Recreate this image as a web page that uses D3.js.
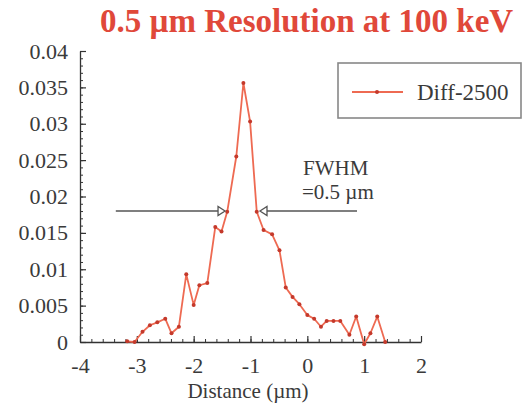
<!DOCTYPE html>
<html>
<head>
<meta charset="utf-8">
<script src="https://cdn.jsdelivr.net/npm/d3@7"></script>
<style>
  html, body { margin: 0; padding: 0; background: #fff; }
  svg { display: block; }
</style>
</head>
<body>
<svg id="chart" width="526" height="403"></svg>
<script>
// ---- data ----
const titleText = "0.5 \u00b5m Resolution at 100 keV";
const seriesName = "Diff-2500";
const xLabel = "Distance (\u00b5m)";
const distance = [-3.17, -3.04, -2.90, -2.77, -2.64, -2.50, -2.39, -2.26, -2.13, -2.00, -1.90, -1.76,
  -1.62, -1.51, -1.41, -1.25, -1.125, -1.007, -0.89, -0.77, -0.62, -0.49, -0.38, -0.26, -0.14,
  0.00, 0.12, 0.24, 0.34, 0.46, 0.58, 0.74, 0.86, 1.00, 1.11, 1.23, 1.37];
const signal = [0.0001, 0.0000, 0.0014, 0.0023, 0.0027, 0.0032, 0.0012, 0.0021, 0.0093, 0.0051, 0.0078, 0.0081,
  0.0158, 0.0152, 0.0179, 0.0255, 0.0356, 0.0303, 0.0179, 0.0154, 0.0148, 0.0126, 0.0075, 0.0062, 0.0052,
  0.0037, 0.0032, 0.0021, 0.0029, 0.0029, 0.0029, 0.0010, 0.0035, -0.0003, 0.0012, 0.0035, 0.0000];
const xTicks = [-4, -3, -2, -1, 0, 1, 2];
const xTickLabels = ["-4", "-3", "-2", "-1", "0", "1", "2"];
const yTicks = [0, 0.005, 0.01, 0.015, 0.02, 0.025, 0.03, 0.035, 0.04];
const yTickLabels = ["0", "0.005", "0.01", "0.015", "0.02", "0.025", "0.03", "0.035", "0.04"];
const fwhmLevel = 0.018;
const leftArrow = [-3.37, -1.448];   // line start, arrow tip
const rightArrow = [0.874, -0.833];  // line start, arrow tip
const fwhmLines = ["FWHM", "=0.5 \u00b5m"];

// ---- layout ----
const FONT = "'Liberation Serif', 'DejaVu Serif', Tinos, 'Times New Roman', serif";
const svg = d3.select("#chart");
const x = d3.scaleLinear().domain([-4, 2]).range([80, 421]);
const y = d3.scaleLinear().domain([0, 0.04]).range([342, 51]);
const axisColor = "#333";
const textColor = "#3a3a3a";
const lineColor = "#ee6a52";
const dotColor = "#c4392b";
const fs = 22;

// title
svg.append("text").attr("x", 100).attr("y", 32).attr("font-family", FONT)
  .attr("font-size", 33).attr("font-weight", "bold").attr("fill", "#e0483a")
  .text(titleText);

// minor ticks
const xMinor = d3.range(-4, 2.0001, 0.2).map(v => +v.toFixed(2));
const yMinor = d3.range(0, 0.04001, 0.001).map(v => +v.toFixed(4));
svg.append("g").attr("transform", "translate(0,342)")
  .call(d3.axisBottom(x).tickValues(xMinor).tickSize(-3).tickFormat(""))
  .call(g => g.select(".domain").remove())
  .call(g => g.selectAll("line").attr("stroke", axisColor));
svg.append("g").attr("transform", "translate(80,0)")
  .call(d3.axisLeft(y).tickValues(yMinor).tickSize(-3).tickFormat(""))
  .call(g => g.select(".domain").remove())
  .call(g => g.selectAll("line").attr("stroke", axisColor));

// major axes
const xAxis = svg.append("g").attr("transform", "translate(0,342)")
  .call(d3.axisBottom(x).tickValues(xTicks).tickSizeInner(-6).tickSizeOuter(0).tickPadding(15)
    .tickFormat((d, i) => xTickLabels[i]));
const yAxis = svg.append("g").attr("transform", "translate(80,0)")
  .call(d3.axisLeft(y).tickValues(yTicks).tickSizeInner(-6).tickSizeOuter(0).tickPadding(12)
    .tickFormat((d, i) => yTickLabels[i]));
[xAxis, yAxis].forEach(g => {
  g.attr("font-family", FONT).attr("font-size", fs);
  g.select(".domain").attr("stroke", axisColor).attr("stroke-width", 1.3);
  g.selectAll("line").attr("stroke", axisColor).attr("stroke-width", 1.2);
  g.selectAll("text").attr("font-size", fs).attr("fill", textColor).attr("font-family", FONT);
});

// x label
svg.append("text").attr("x", 248).attr("y", 398).attr("text-anchor", "middle").attr("font-family", FONT)
  .attr("font-size", 21).attr("fill", textColor).text(xLabel);

// FWHM arrows
const arrowColor = "#555";
const ay = y(fwhmLevel);
svg.append("line").attr("x1", x(leftArrow[0])).attr("x2", x(leftArrow[1]) - 7)
  .attr("y1", ay).attr("y2", ay).attr("stroke", arrowColor).attr("stroke-width", 1.5);
svg.append("line").attr("x1", x(rightArrow[0])).attr("x2", x(rightArrow[1]) + 7)
  .attr("y1", ay).attr("y2", ay).attr("stroke", arrowColor).attr("stroke-width", 1.5);

// data line + markers
const pts = distance.map((d, i) => [d, signal[i]]);
svg.append("path").datum(pts)
  .attr("fill", "none").attr("stroke", lineColor).attr("stroke-width", 1.8)
  .attr("stroke-linejoin", "round")
  .attr("d", d3.line().x(d => x(d[0])).y(d => y(d[1])));
svg.append("g").selectAll("circle").data(pts).join("circle")
  .attr("cx", d => x(d[0])).attr("cy", d => y(d[1])).attr("r", 2)
  .attr("fill", dotColor);

// arrow heads (open triangles)
const lt = x(leftArrow[1]);
svg.append("path").attr("d", `M${lt},${ay} L${lt - 7},${ay - 4.5} L${lt - 7},${ay + 4.5} Z`)
  .attr("fill", "#fff").attr("stroke", arrowColor).attr("stroke-width", 1.3);
const rt = x(rightArrow[1]);
svg.append("path").attr("d", `M${rt},${ay} L${rt + 7},${ay - 4.5} L${rt + 7},${ay + 4.5} Z`)
  .attr("fill", "#fff").attr("stroke", arrowColor).attr("stroke-width", 1.3);

// FWHM text
svg.append("text").attr("x", 303).attr("y", 175).attr("font-family", FONT).attr("font-size", 21).attr("fill", textColor).text(fwhmLines[0]);
svg.append("text").attr("x", 302).attr("y", 199).attr("font-family", FONT).attr("font-size", 21).attr("fill", textColor).text(fwhmLines[1]);

// legend
svg.append("rect").attr("x", 338).attr("y", 63).attr("width", 183).attr("height", 55)
  .attr("fill", "#fff").attr("stroke", "#888").attr("stroke-width", 1.6);
svg.append("line").attr("x1", 352).attr("x2", 403).attr("y1", 92).attr("y2", 92)
  .attr("stroke", lineColor).attr("stroke-width", 1.8);
svg.append("circle").attr("cx", 377).attr("cy", 92).attr("r", 2).attr("fill", dotColor);
svg.append("text").attr("x", 417).attr("y", 100).attr("font-family", FONT).attr("font-size", 23).attr("fill", textColor).text(seriesName);
</script>
</body>
</html>
